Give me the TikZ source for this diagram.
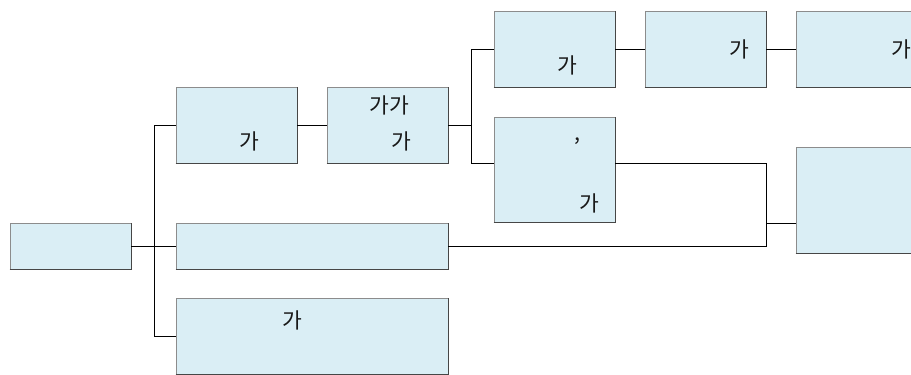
\documentclass[tikz,border=0pt]{standalone}
\usepackage{fontspec}
\newfontfamily\kr{Noto Sans CJK KR}
\definecolor{boxfill}{RGB}{218,238,245}
\definecolor{boxline}{RGB}{140,140,140}
\definecolor{boxdark}{RGB}{70,70,70}
\tikzset{
  box/.style={draw=boxline, fill=boxfill, line width=0.8pt, rectangle, inner sep=0pt},
  darkedge/.style={draw=boxdark, line width=0.8pt},
  lbl/.style={font=\kr\fontsize{21.5}{24}\selectfont, inner sep=0pt, text=black!90},
  conn/.style={draw=black, line width=0.9pt}
}
\begin{document}
\begin{tikzpicture}[x=1pt,y=-1pt]
\useasboundingbox (0,0) rectangle (911,375);
% boxes
\node[box, minimum width=121pt, minimum height=46pt] (A) at (70.5,246) {};
\node[box, minimum width=121pt, minimum height=76pt] (B1) at (236.5,125) {};
\node[box, minimum width=121pt, minimum height=76pt] (B2) at (387.5,125) {};
\node[box, minimum width=272pt, minimum height=46pt] (C) at (312,246) {};
\node[box, minimum width=272pt, minimum height=76pt] (D) at (312,336) {};
\node[box, minimum width=121pt, minimum height=76pt] (E1) at (554.5,49) {};
\node[box, minimum width=121pt, minimum height=76pt] (E2) at (705.5,49) {};
\node[box, minimum width=134pt, minimum height=76pt] (E3) at (863,49) {};
\node[box, minimum width=121pt, minimum height=105pt] (F) at (554.5,169.5) {};
\node[box, minimum width=134pt, minimum height=106pt] (G) at (863,200) {};
\foreach \b in {A,B1,B2,C,D,E1,E2,E3,F,G}
  \draw[darkedge] (\b.south west) -- (\b.south east) -- (\b.north east);
% texts
\node[lbl] (B1t) at (249,141) {가};
\node[lbl] (B2t1) at (389,105) {가가};
\node[lbl] (B2t2) at (401,141) {가};
\node[lbl] (Dt) at (292,320) {가};
\node[lbl] (E1t) at (567,65) {가};
\node[lbl] (E2t) at (739,49) {가};
\node[lbl] (E3t) at (901,49) {가};
\node[lbl] (Ft1) at (577,141) {,};
\node[lbl] (Ft2) at (589,203) {가};
% connectors
\coordinate (t1) at (154,125);
\coordinate (t2) at (154,336);
\coordinate (u1) at (471,49);
\coordinate (u2) at (471,163);
\coordinate (v1) at (766,163);
\coordinate (v2) at (766,246);
\coordinate (v3) at (766,223);
\draw[conn] (A.east) -- (C.west);
\draw[conn] (B1.west) -- (t1) -- (t2) -- (D.west);
\draw[conn] (B1.east) -- (B2.west);
\draw[conn] (B2.east) -- (B2.east -| u1);
\draw[conn] (E1.west) -- (u1) -- (u2) -- (F.west |- u2);
\draw[conn] (E1.east) -- (E2.west);
\draw[conn] (E2.east) -- (E3.west);
\draw[conn] (F.east |- v1) -- (v1) -- (v2) -- (C.east);
\draw[conn] (v3) -- (G.west |- v3);
\end{tikzpicture}
\end{document}
